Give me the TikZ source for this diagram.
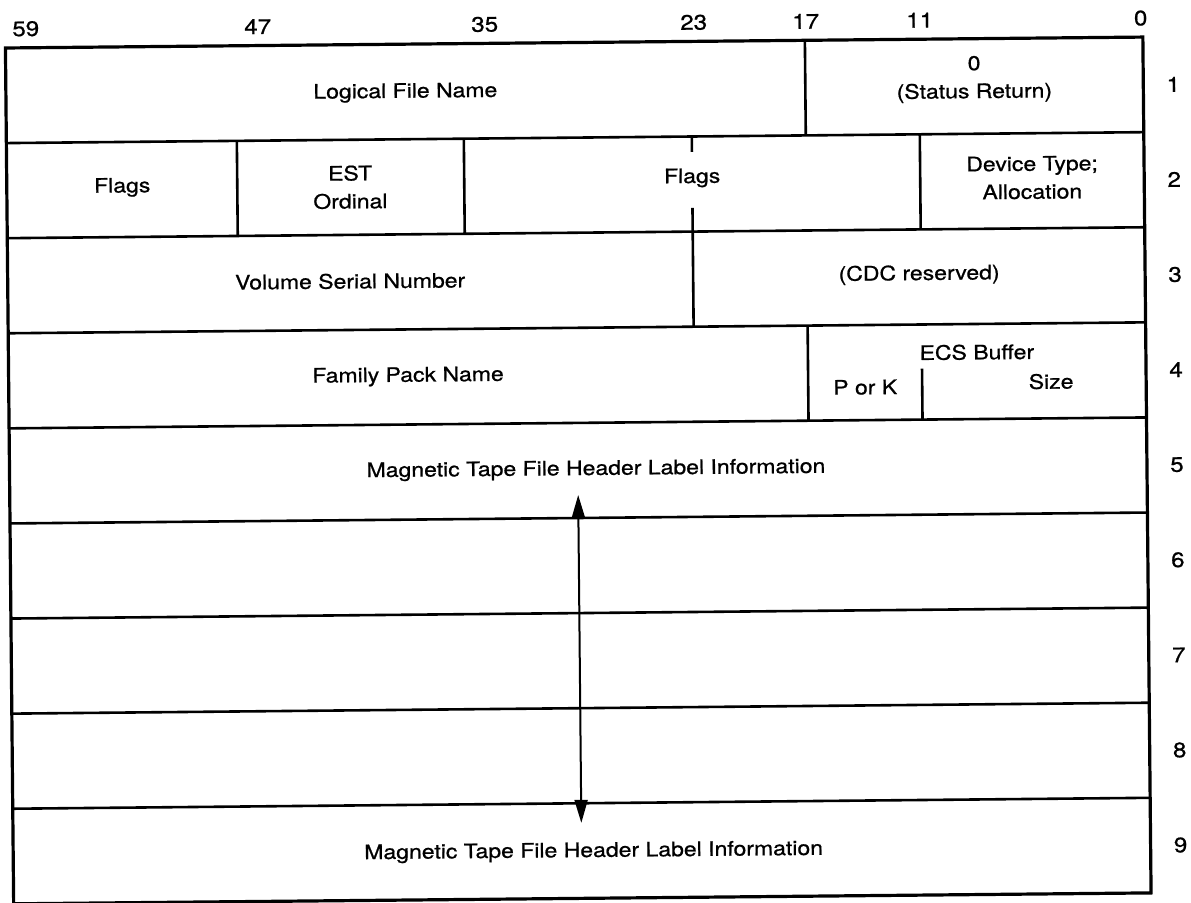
\documentclass[tikz,border=0pt]{standalone}
\usepackage{fontspec}
\newfontfamily\fieldfont{TeX Gyre Heros}[FakeStretch=1.15,FakeBold=0.8]
\usetikzlibrary{arrows.meta,positioning,calc}

\begin{document}
\begin{tikzpicture}[
  x=1pt, y=-1pt,
  rule/.style={line width=2.6pt},
  frame/.style={line width=3.2pt},
  lab/.style={font=\fieldfont\fontsize{20}{28}\selectfont, align=center, inner sep=0pt},
  num/.style={font=\fieldfont\fontsize{21}{25}\selectfont, inner sep=0pt},
  arr/.style={{Triangle[length=23pt,width=13pt]}-{Triangle[length=23pt,width=13pt]}, line width=2pt}
]
\useasboundingbox (0,0) rectangle (1191,902);

\begin{scope}[rotate around={0.55:(577.5,470.5)}, transform shape]

% ===== BIT AND WORD NUMBERS =====
\foreach \b/\xx in {59/30,47/262,35/489,23/698,17/810,11/924,0/1145}
  \node[num] (bit\b) at (\xx,23.5) {\b};
\foreach \w in {1,...,9}
  \node[num] (word\w) at (1177,{42.5+(\w-0.5)*95.1}) {\w};

% ===== WORD GRID =====
\draw[frame] (9.5,42.5) rectangle (1147,898.4);
\foreach \w in {1,...,8}
  \draw[rule] (9.5,{42.5+\w*95.1}) -- (1147,{42.5+\w*95.1});
\draw[rule] (809,42.5) -- (809,137.6);
\draw[rule] (240,137.6) -- (240,232.7) (467,137.6) -- (467,232.7) (923,137.6) -- (923,232.7);
\draw[rule] (695,137.6) -- (695,153) (695,209) -- (695,327.8);
\draw[rule] (809,327.8) -- (809,422.9) (923,372) -- (923,422.9);

% ===== FIELDS =====
\node[lab] (lfn) at (409,91) {Logical File Name};
\node[lab] (status) at (978,83) {0\\(Status Return)};
\node[lab] (flags_hi) at (125,183) {Flags};
\node[lab] (est) at (353,185) {EST\\Ordinal};
\node[lab] (flags_mid) at (695,179) {Flags};
\node[lab] (devtype) at (1035,182) {Device Type;\\Allocation};
\node[lab] (vsn) at (352,279) {Volume Serial Number};
\node[lab] (cdc) at (921,278) {(CDC reserved)};
\node[lab] (fpn) at (409,375) {Family Pack Name};
\node[lab] (ecs) at (978,356) {ECS Buffer};
\node[lab] (pork) at (866,390) {P or K};
\node[lab] (size) at (1052,386) {Size};
\node[lab] (mtf_first) at (596,470) {Magnetic Tape File Header Label Information};
\node[lab] (mtf_last) at (590,852) {Magnetic Tape File Header Label Information};

% ===== SPAN ARROW =====
\coordinate (span_top) at (578,495);
\coordinate (span_bot) at (578,823);
\draw[arr] (span_top) -- (span_bot);

\end{scope}
\end{tikzpicture}
\end{document}
